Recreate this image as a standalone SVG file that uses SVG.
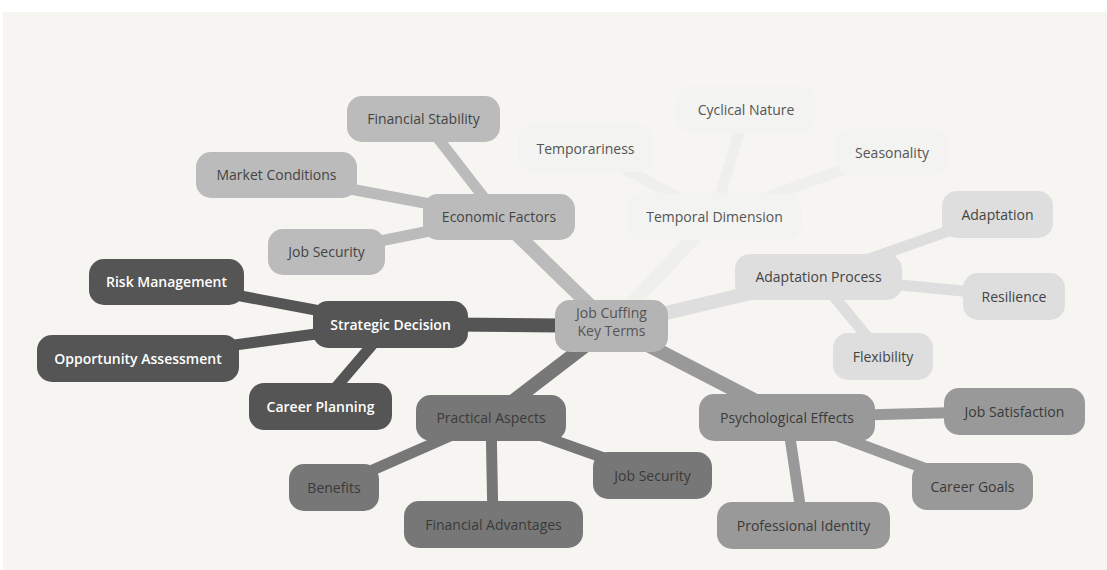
<svg xmlns="http://www.w3.org/2000/svg" width="1107" height="570" viewBox="0 0 1107 570">
<style>
.bg{fill:#f6f5f1}
text{font-family:"Open Sans","Noto Sans","Liberation Sans",sans-serif;font-size:14px;text-anchor:middle}
.e{fill:none;stroke-linecap:round}
.d1{stroke-width:14}
.d2{stroke-width:11}
.sE{stroke:#bbbbbb}.sT{stroke:#efefec}.sA{stroke:#dedede}.sS{stroke:#555555}.sP{stroke:#777777}.sY{stroke:#999999}
.n rect{rx:15;ry:15}
.root rect{fill:#b4b4b4}.root text{fill:#555}
.nE rect{fill:#bbbbbb}.nE text{fill:#444}
.nT rect{fill:#f3f3f1}.nT text{fill:#555}
.nA rect{fill:#dedede}.nA text{fill:#444}
.nS rect{fill:#555555}.nS text{fill:#ffffff;font-weight:600}
.nP rect{fill:#777777}.nP text{fill:#3a3a3a}
.nY rect{fill:#999999}.nY text{fill:#3a3a3a}
</style>
<rect x="0" y="0" width="1107" height="570" fill="#ffffff"/>
<rect class="bg" x="3" y="12" width="1104" height="558"/>
<g id="connectors">
<line class="e d1 sE" x1="611" y1="326" x2="499" y2="217"/>
<line class="e d1 sT" x1="611" y1="326" x2="714" y2="216"/>
<line class="e d1 sA" x1="611" y1="326" x2="818" y2="277"/>
<line class="e d1 sS" x1="611" y1="326" x2="390" y2="324"/>
<line class="e d1 sP" x1="611" y1="326" x2="491" y2="418"/>
<line class="e d1 sY" x1="611" y1="326" x2="787" y2="417"/>
<line class="e d2 sE" x1="499" y1="217" x2="423" y2="119"/>
<line class="e d2 sE" x1="499" y1="217" x2="276" y2="175"/>
<line class="e d2 sE" x1="499" y1="217" x2="326" y2="252"/>
<line class="e d2 sT" x1="714" y1="216" x2="585" y2="148"/>
<line class="e d2 sT" x1="714" y1="216" x2="746" y2="109"/>
<line class="e d2 sT" x1="714" y1="216" x2="892" y2="152"/>
<line class="e d2 sA" x1="818" y1="277" x2="997" y2="214"/>
<line class="e d2 sA" x1="818" y1="277" x2="1014" y2="296"/>
<line class="e d2 sA" x1="818" y1="277" x2="883" y2="356"/>
<line class="e d2 sS" x1="390" y1="324" x2="166" y2="282"/>
<line class="e d2 sS" x1="390" y1="324" x2="138" y2="358"/>
<line class="e d2 sS" x1="390" y1="324" x2="320" y2="406"/>
<line class="e d2 sP" x1="491" y1="418" x2="334" y2="487"/>
<line class="e d2 sP" x1="491" y1="418" x2="493" y2="524"/>
<line class="e d2 sP" x1="491" y1="418" x2="652" y2="475"/>
<line class="e d2 sY" x1="787" y1="417" x2="1014" y2="411"/>
<line class="e d2 sY" x1="787" y1="417" x2="972" y2="486"/>
<line class="e d2 sY" x1="787" y1="417" x2="803" y2="525"/>
</g>
<g id="root" class="n root"><rect x="555" y="300" width="113" height="52"/><text x="611.5" y="318">Job Cuffing</text><text x="611.5" y="336">Key Terms</text></g>
<g id="economic" class="n nE"><rect x="423" y="194" width="152" height="46"/><text x="499" y="222">Economic Factors</text></g>
<g id="financial-stability" class="n nE"><rect x="347" y="96" width="153" height="46"/><text x="423.5" y="124">Financial Stability</text></g>
<g id="market-conditions" class="n nE"><rect x="196" y="152" width="161" height="46"/><text x="276.5" y="180">Market Conditions</text></g>
<g id="job-security-e" class="n nE"><rect x="268" y="229" width="117" height="46"/><text x="326.5" y="257">Job Security</text></g>
<g id="temporal" class="n nT"><rect x="627" y="193" width="175" height="47"/><text x="714.5" y="221.5">Temporal Dimension</text></g>
<g id="temporariness" class="n nT"><rect x="518" y="125" width="135" height="47"/><text x="585.5" y="153.5">Temporariness</text></g>
<g id="cyclical" class="n nT"><rect x="677" y="86" width="138" height="47"/><text x="746" y="114.5">Cyclical Nature</text></g>
<g id="seasonality" class="n nT"><rect x="836" y="129" width="112" height="47"/><text x="892" y="157.5">Seasonality</text></g>
<g id="adaptation-process" class="n nA"><rect x="735" y="254" width="167" height="46"/><text x="818.5" y="282">Adaptation Process</text></g>
<g id="adaptation" class="n nA"><rect x="942" y="191" width="111" height="47"/><text x="997.5" y="219.5">Adaptation</text></g>
<g id="resilience" class="n nA"><rect x="963" y="273" width="102" height="47"/><text x="1014" y="301.5">Resilience</text></g>
<g id="flexibility" class="n nA"><rect x="833" y="333" width="100" height="47"/><text x="883" y="361.5">Flexibility</text></g>
<g id="strategic" class="n nS"><rect x="313" y="301" width="155" height="47"/><text x="390.5" y="329.5">Strategic Decision</text></g>
<g id="risk" class="n nS"><rect x="89" y="259" width="155" height="46"/><text x="166.5" y="287">Risk Management</text></g>
<g id="opportunity" class="n nS"><rect x="37" y="335" width="202" height="47"/><text x="138" y="363.5">Opportunity Assessment</text></g>
<g id="career-planning" class="n nS"><rect x="249" y="383" width="143" height="47"/><text x="320.5" y="411.5">Career Planning</text></g>
<g id="practical" class="n nP"><rect x="416" y="395" width="150" height="46"/><text x="491" y="423">Practical Aspects</text></g>
<g id="benefits" class="n nP"><rect x="289" y="464" width="90" height="47"/><text x="334" y="492.5">Benefits</text></g>
<g id="financial-advantages" class="n nP"><rect x="404" y="501" width="179" height="47"/><text x="493.5" y="529.5">Financial Advantages</text></g>
<g id="job-security-p" class="n nP"><rect x="593" y="452" width="119" height="47"/><text x="652.5" y="480.5">Job Security</text></g>
<g id="psychological" class="n nY"><rect x="699" y="394" width="176" height="47"/><text x="787" y="422.5">Psychological Effects</text></g>
<g id="job-satisfaction" class="n nY"><rect x="944" y="388" width="141" height="47"/><text x="1014.5" y="416.5">Job Satisfaction</text></g>
<g id="career-goals" class="n nY"><rect x="912" y="463" width="121" height="47"/><text x="972.5" y="491.5">Career Goals</text></g>
<g id="professional-identity" class="n nY"><rect x="717" y="502" width="173" height="47"/><text x="803.5" y="530.5">Professional Identity</text></g>
</svg>
